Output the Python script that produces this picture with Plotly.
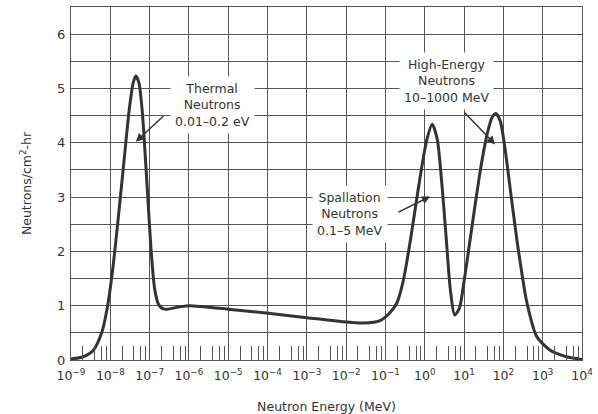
import plotly.graph_objects as go

# log10 of neutron energy (MeV) and flux (neutrons/cm^2-hr)
log_energy = [-9.0, -8.69, -8.43, -8.22, -8.08, -7.95, -7.80, -7.66, -7.52, -7.42, -7.35,
              -7.27, -7.19, -7.11, -7.03, -6.95, -6.87, -6.77, -6.65, -6.55, -6.23, -5.97,
              -5.0, -3.98, -3.0, -2.15, -1.56, -1.15, -0.90, -0.71, -0.55, -0.40, -0.25,
              -0.10, 0.05, 0.19, 0.32, 0.44, 0.55, 0.65, 0.76, 0.88, 1.0, 1.15, 1.30,
              1.45, 1.60, 1.72, 1.81, 1.92, 2.05, 2.20, 2.38, 2.60, 2.85, 3.19, 3.61, 4.0]
flux = [0.02, 0.06, 0.18, 0.5, 0.95, 1.6, 2.6, 3.6, 4.6, 5.1, 5.23,
        5.1, 4.6, 3.75, 2.8, 1.9, 1.3, 1.02, 0.94, 0.935, 0.98, 1.0,
        0.935, 0.86, 0.78, 0.71, 0.68, 0.72, 0.86, 1.05, 1.45, 2.05, 2.75,
        3.45, 4.05, 4.34, 4.05, 3.2, 2.2, 1.3, 0.83, 0.95, 1.45, 2.2, 2.95,
        3.65, 4.2, 4.48, 4.54, 4.4, 3.85, 3.0, 2.03, 1.05, 0.43, 0.18, 0.06, 0.01]

decades = list(range(-9, 5))
tick_labels = ["10<sup>%s</sup>" % (str(d).replace("-", "−")) for d in decades]
minor_mult = [2, 4, 6, 8]

energy = [10 ** v for v in log_energy]
minor_vals = [m * 10 ** d for d in decades[:-1] for m in minor_mult]

ink = "#333333"
grid = "#555555"
font_family = "'DejaVu Sans', sans-serif"

fig = go.Figure()
fig.add_trace(go.Scatter(
    x=energy, y=flux, mode="lines",
    line=dict(color=ink, width=3, shape="spline", smoothing=0.7),
    hoverinfo="skip", showlegend=False,
))

fig.update_layout(
    width=598, height=414,
    margin=dict(l=71, r=16, t=7, b=54, autoexpand=False),
    paper_bgcolor="white", plot_bgcolor="white",
    font=dict(family=font_family, color=ink, size=13),
    xaxis=dict(
        type="log", range=[-9, 4],
        tickmode="array",
        tickvals=[10 ** d for d in decades], ticktext=tick_labels,
        showgrid=True, gridcolor=grid, gridwidth=1,
        showline=True, linecolor=grid, linewidth=1, mirror=True,
        ticks="", zeroline=False, automargin=False,
        tickfont=dict(size=12.5), ticklabelstandoff=4,
        minor=dict(tickmode="array", tickvals=minor_vals, ticks="inside",
                   ticklen=14, tickcolor=grid, tickwidth=1, showgrid=False),
        title=dict(text="Neutron Energy (MeV)", font=dict(size=12.5), standoff=20),
    ),
    yaxis=dict(
        range=[0, 6.5], dtick=1, tick0=0,
        showgrid=True, gridcolor=grid, gridwidth=1,
        showline=True, linecolor=grid, linewidth=1, mirror=True,
        ticks="", zeroline=False, automargin=False,
        tickfont=dict(size=13), ticklabelstandoff=2,
        minor=dict(dtick=0.5, showgrid=True, gridcolor=grid, gridwidth=1),
        title=dict(text="Neutrons/cm<sup>2</sup>-hr", font=dict(size=12.5), standoff=22),
    ),
)

labels = [
    ("Thermal<br>Neutrons<br>0.01–0.2 eV", -5.39, 4.69),
    ("Spallation<br>Neutrons<br>0.1–5 MeV", -1.9, 2.68),
    ("High-Energy<br>Neutrons<br>10–1000 MeV", 0.56, 5.13),
]
for text, lx, ly in labels:
    fig.add_annotation(x=lx, y=ly, xref="x", yref="y", text=text, showarrow=False,
                       bgcolor="white", borderpad=4, font=dict(size=12.5, color=ink),
                       align="center")

arrows = [
    (-7.35, 4.02, -6.61, 4.52),
    (0.135, 3.01, -0.71, 2.71),
    (1.79, 3.97, 0.98, 4.58),
]
for hx, hy, tx, ty in arrows:
    fig.add_annotation(x=hx, y=hy, ax=tx, ay=ty, xref="x", yref="y", axref="x", ayref="y",
                       text="", showarrow=True, arrowhead=2, arrowsize=1.1,
                       arrowwidth=1.5, arrowcolor=ink)

fig.write_html("out.html", config={"displayModeBar": False},
               post_script="document.body.style.margin='0';")
